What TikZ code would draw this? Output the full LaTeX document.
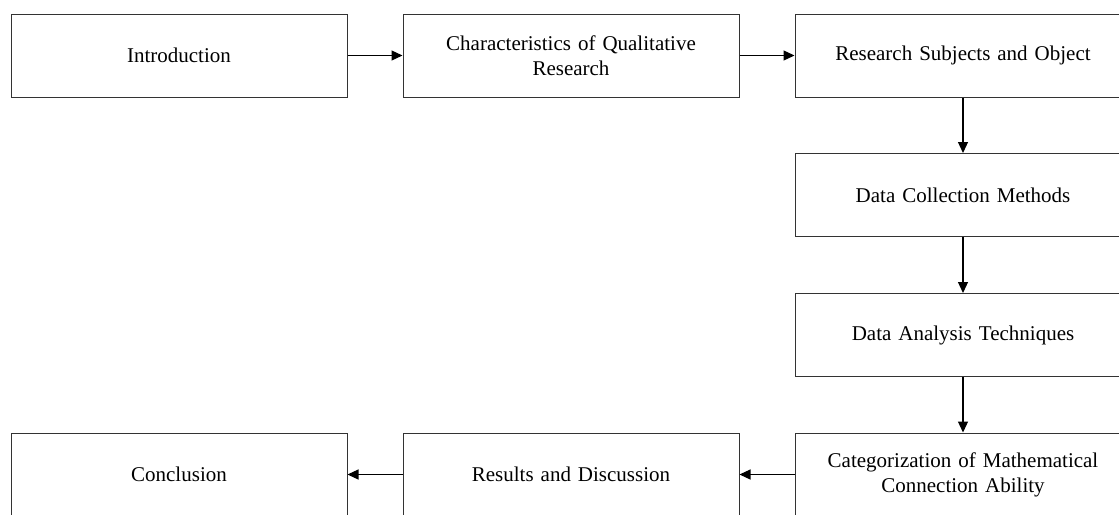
\documentclass[tikz,border=0pt]{standalone}
\usepackage{fontspec}
\setmainfont{Liberation Serif}
\usetikzlibrary{arrows.meta}
\begin{document}
\begin{tikzpicture}[x=1pt,y=-1pt,
  stepbox/.style={draw=black!80,line width=1pt,minimum width=336pt,minimum height=83pt,
    inner sep=0pt,align=center,text width=320pt,
    font=\fontsize{21}{25}\selectfont},
  conn/.style={draw=black,line width=1.2pt,-{Triangle[length=11pt,width=10pt]}}]
\useasboundingbox (0,0) rectangle (1119,514);
\clip (0,0) rectangle (1119,514);
\node[stepbox] (intro) at (179,55.5) {Introduction};
\node[stepbox] (char) at (571,55.5) {Characteristics of Qualitative\\Research};
\node[stepbox] (rso) at (963,55.5) {Research Subjects and Object};
\node[stepbox] (dcm) at (963,195) {Data Collection Methods};
\node[stepbox] (dat) at (963,335) {Data Analysis Techniques};
\node[stepbox] (cat) at (963,474.5) {Categorization of Mathematical\\Connection Ability};
\node[stepbox] (res) at (571,474.5) {Results and Discussion};
\node[stepbox] (con) at (179,474.5) {Conclusion};
\draw[conn] (intro) -- (char);
\draw[conn] (char) -- (rso);
\draw[conn] (rso) -- (dcm);
\draw[conn] (dcm) -- (dat);
\draw[conn] (dat) -- (cat);
\draw[conn] (cat) -- (res);
\draw[conn] (res) -- (con);
\end{tikzpicture}
\end{document}
